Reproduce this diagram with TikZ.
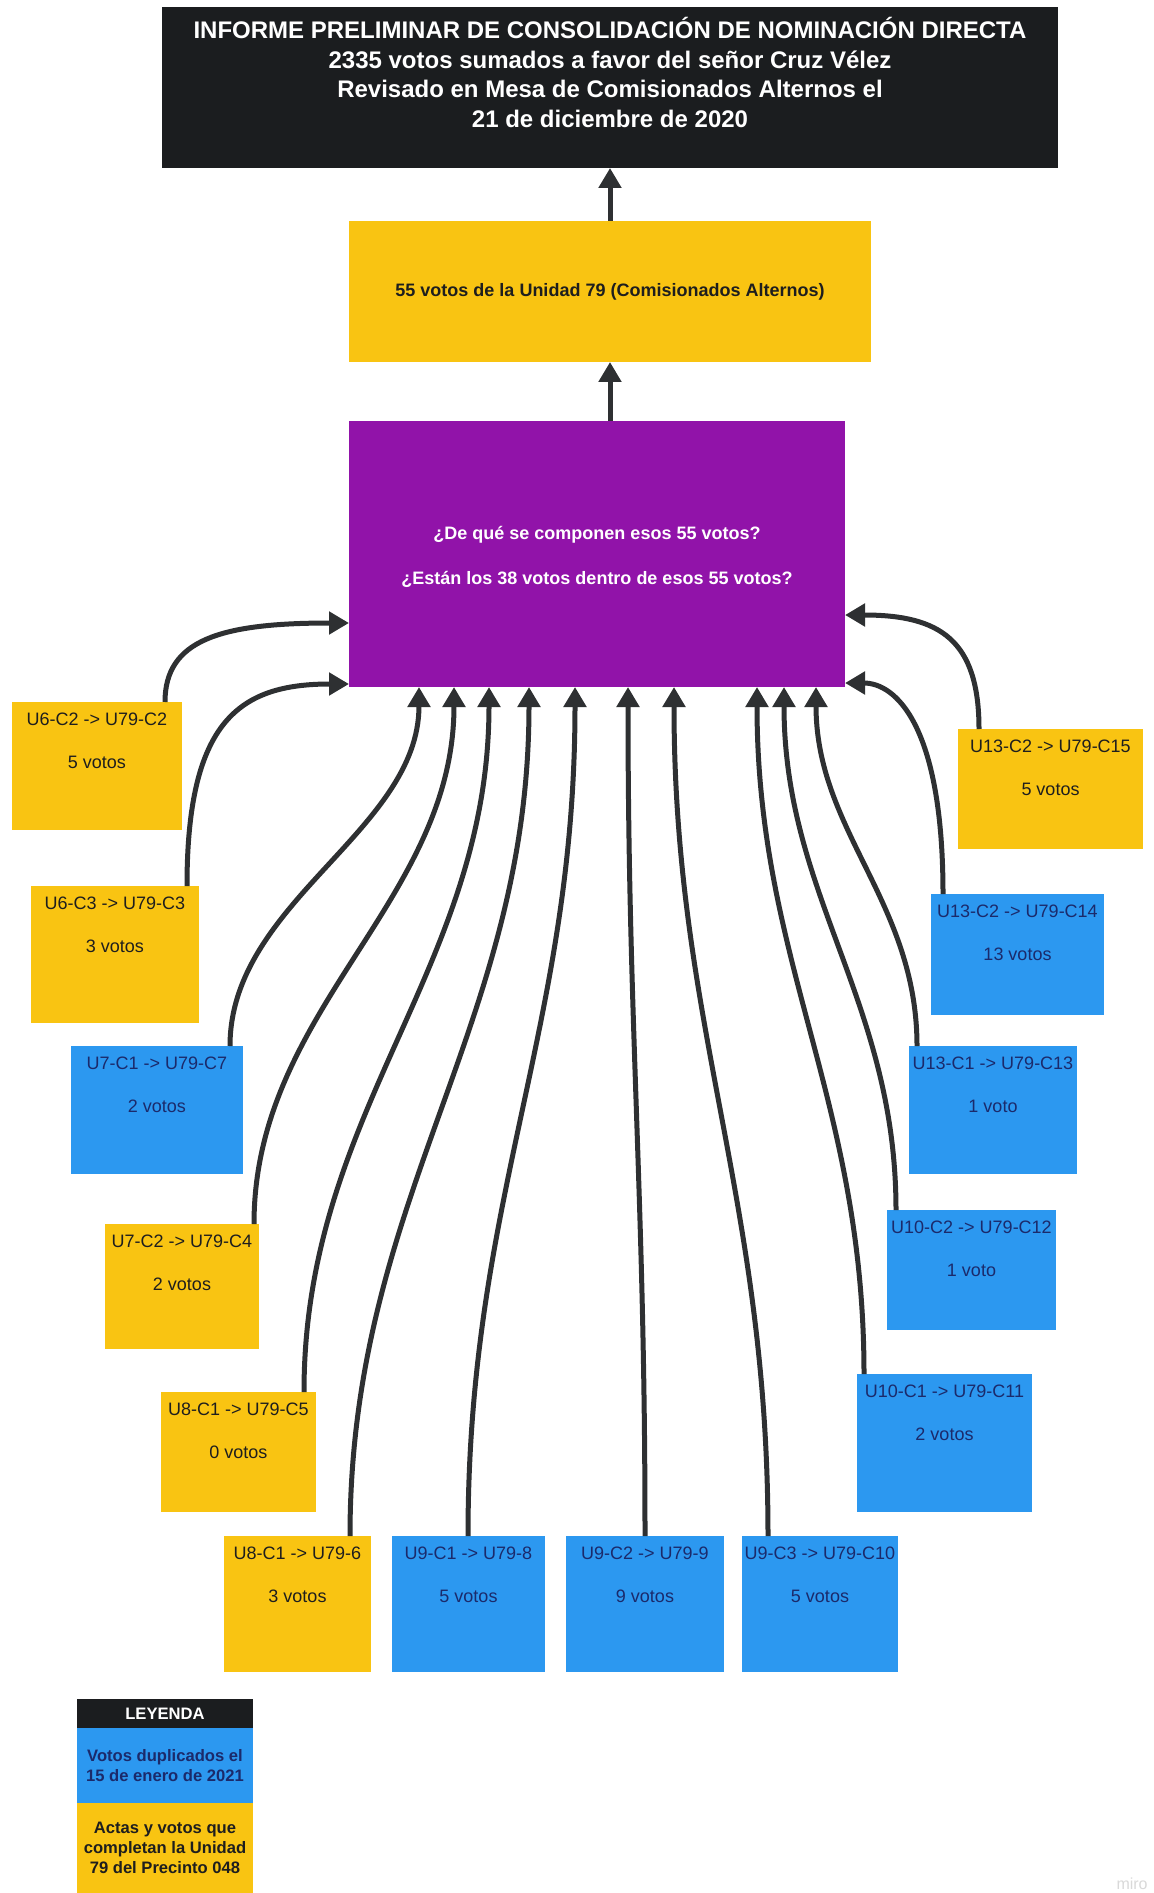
\documentclass[tikz,border=0pt]{standalone}
\usepackage{fontspec}
\setmainfont{Liberation Sans}
\usetikzlibrary{arrows.meta,calc}
\definecolor{ttl}{HTML}{1B1D1F}
\definecolor{yel}{HTML}{F9C412}
\definecolor{blu}{HTML}{2C98F0}
\definecolor{pur}{HTML}{9113A9}
\definecolor{navy}{HTML}{1B2A6B}
\definecolor{ink}{HTML}{1E1E1E}
\definecolor{arr}{HTML}{2E3032}
\newcommand\rbox[6]{\node[#6, minimum width={(#4-#2)*0.5pt}, minimum height={(#5-#3)*0.5pt}] (#1) at ({(#2+#4)/2},{(#3+#5)/2}) {};}
\begin{document}
\begin{tikzpicture}[x=0.5pt,y=-0.5pt,
  box/.style={inner sep=0pt, outer sep=0pt, draw=none},
  ybox/.style={box, fill=yel},
  bbox/.style={box, fill=blu},
  cardtxt/.style={inner sep=0pt, outer sep=0pt, anchor=north, align=center, font=\fontsize{9pt}{21.5pt}\selectfont},
  ytxt/.style={cardtxt, text=ink},
  btxt/.style={cardtxt, text=navy},
  legtxt/.style={box, align=center, font=\fontsize{8.3pt}{10pt}\selectfont\bfseries},
  conn/.style={draw=arr, line width=2.5pt, -{Triangle[length=10pt,width=11pt]}},
]
\fill[white] (0,0) rectangle (1153,1893);
\useasboundingbox (0,0) rectangle (1153,1893);

% title
\rbox{T}{162}{7}{1058}{168}{box, fill=ttl}
\node[inner sep=0pt, outer sep=0pt, anchor=north, align=center, text=white,
  font=\fontsize{12pt}{14.75pt}\selectfont\bfseries] (Tt) at ([yshift=-3.9pt]T.north)
  {\rule{0pt}{12pt}INFORME PRELIMINAR DE CONSOLIDACIÓN DE NOMINACIÓN DIRECTA\\
   2335 votos sumados a favor del señor Cruz Vélez\\
   Revisado en Mesa de Comisionados Alternos el\\
   21 de diciembre de 2020};

% yellow main box
\node[ybox, minimum width=261pt, minimum height=70.5pt, text=ink,
  font=\fontsize{9pt}{11pt}\selectfont\bfseries] (Y) at (610,291.5)
  {55 votos de la Unidad 79 (Comisionados Alternos)};

% purple box
\node[box, fill=pur, minimum width=248pt, minimum height=133pt] (P) at (597,554) {};
\node[inner sep=0pt, outer sep=0pt, anchor=north, align=center, text=white,
  font=\fontsize{9pt}{22.5pt}\selectfont\bfseries] (Pt) at ([yshift=-51.25pt]P.north)
  {\rule{0pt}{8pt}¿De qué se componen esos 55 votos?\\¿Están los 38 votos dentro de esos 55 votos?};

% cards
\rbox{A}{12}{702}{182}{830}{ybox}
\node[ytxt] (At) at ([yshift=-3.5pt]A.north) {\rule{0pt}{8pt}U6-C2 -> U79-C2\\5 votos};
\rbox{B}{31}{886}{199}{1023}{ybox}
\node[ytxt] (Bt) at ([yshift=-3.5pt]B.north) {\rule{0pt}{8pt}U6-C3 -> U79-C3\\3 votos};
\rbox{C}{71}{1046}{243}{1174}{bbox}
\node[btxt] (Ct) at ([yshift=-3.5pt]C.north) {\rule{0pt}{8pt}U7-C1 -> U79-C7\\2 votos};
\rbox{D}{105}{1224}{259}{1349}{ybox}
\node[ytxt] (Dt) at ([yshift=-3.5pt]D.north) {\rule{0pt}{8pt}U7-C2 -> U79-C4\\2 votos};
\rbox{E}{161}{1392}{316}{1512}{ybox}
\node[ytxt] (Et) at ([yshift=-3.5pt]E.north) {\rule{0pt}{8pt}U8-C1 -> U79-C5\\0 votos};
\rbox{F}{224}{1536}{371}{1672}{ybox}
\node[ytxt] (Ft) at ([yshift=-3.5pt]F.north) {\rule{0pt}{8pt}U8-C1 -> U79-6\\3 votos};
\rbox{G}{392}{1536}{545}{1672}{bbox}
\node[btxt] (Gt) at ([yshift=-3.5pt]G.north) {\rule{0pt}{8pt}U9-C1 -> U79-8\\5 votos};
\rbox{H}{566}{1536}{724}{1672}{bbox}
\node[btxt] (Ht) at ([yshift=-3.5pt]H.north) {\rule{0pt}{8pt}U9-C2 -> U79-9\\9 votos};
\rbox{I}{742}{1536}{898}{1672}{bbox}
\node[btxt] (It) at ([yshift=-3.5pt]I.north) {\rule{0pt}{8pt}U9-C3 -> U79-C10\\5 votos};
\rbox{J}{857}{1374}{1032}{1512}{bbox}
\node[btxt] (Jt) at ([yshift=-3.5pt]J.north) {\rule{0pt}{8pt}U10-C1 -> U79-C11\\2 votos};
\rbox{K}{887}{1210}{1056}{1330}{bbox}
\node[btxt] (Kt) at ([yshift=-3.5pt]K.north) {\rule{0pt}{8pt}U10-C2 -> U79-C12\\1 voto};
\rbox{L}{909}{1046}{1077}{1174}{bbox}
\node[btxt] (Lt) at ([yshift=-3.5pt]L.north) {\rule{0pt}{8pt}U13-C1 -> U79-C13\\1 voto};
\rbox{M}{931}{894}{1104}{1015}{bbox}
\node[btxt] (Mt) at ([yshift=-3.5pt]M.north) {\rule{0pt}{8pt}U13-C2 -> U79-C14\\13 votos};
\rbox{N}{958}{729}{1143}{849}{ybox}
\node[ytxt] (Nt) at ([yshift=-3.5pt]N.north) {\rule{0pt}{8pt}U13-C2 -> U79-C15\\5 votos};

% vertical arrows
\draw[conn] (P.north -| Y.south) -- (Y.south);
\draw[conn] (Y.north) -- (T.south);

% side connectors
\draw[conn] ($(A.north west)+(153,0)$) .. controls +(0,-62) and +(-129,0) .. ($(P.north west)+(0,202)$);
\draw[conn] ($(B.north west)+(156,0)$) .. controls +(0,-166) and +(-109,0) .. ($(P.north west)+(0,263)$);
\draw[conn] ($(N.north west)+(21,0)$) .. controls +(0,-89) and +(95,0) .. ($(P.north east)+(0,194)$);
\draw[conn] ($(M.north west)+(12,0)$) .. controls +(0,-170) and +(50,0) .. ($(P.north east)+(0,262)$);

% bottom connectors
\draw[conn] ($(C.north west)+(159,0)$) .. controls +(0,-144) and +(0,144) .. ($(P.south west)+(70,0)$);
\draw[conn] ($(D.north west)+(149,0)$) .. controls +(0,-215) and +(0,215) .. ($(P.south west)+(105,0)$);
\draw[conn] ($(E.north west)+(143,0)$) .. controls +(0,-282) and +(0,282) .. ($(P.south west)+(140,0)$);
\draw[conn] ($(F.north west)+(126,0)$) .. controls +(0,-340) and +(0,340) .. ($(P.south west)+(180,0)$);
\draw[conn] ($(G.north west)+(76,0)$) .. controls +(0,-340) and +(0,340) .. ($(P.south west)+(226,0)$);
\draw[conn] ($(H.north west)+(79,0)$) .. controls +(0,-340) and +(0,340) .. ($(P.south west)+(279,0)$);
\draw[conn] ($(I.north west)+(26,0)$) .. controls +(0,-340) and +(0,340) .. ($(P.south west)+(325,0)$);
\draw[conn] ($(J.north west)+(7,0)$) .. controls +(0,-275) and +(0,275) .. ($(P.south west)+(408,0)$);
\draw[conn] ($(K.north west)+(9,0)$) .. controls +(0,-209) and +(0,209) .. ($(P.south west)+(435,0)$);
\draw[conn] ($(L.north west)+(8,0)$) .. controls +(0,-144) and +(0,144) .. ($(P.south west)+(467,0)$);

% legend
\node[legtxt, fill=ttl, text=white, minimum width=88pt, minimum height=14.5pt] (leg0) at (165,1713.5) {LEYENDA};
\node[legtxt, fill=blu, text=navy, minimum width=88pt, minimum height=37.5pt] (leg1) at (165,1765.5) {Votos duplicados el\\15 de enero de 2021};
\node[legtxt, fill=yel, text=ink, minimum width=88pt, minimum height=45pt] (leg2) at (165,1848) {Actas y votos que\\completan la Unidad\\79 del Precinto 048};

% watermark
\node[anchor=south east, inner sep=0pt, text=black!15, font=\fontsize{8pt}{8pt}\selectfont] (wm) at (1148,1890) {miro};
\end{tikzpicture}
\end{document}
